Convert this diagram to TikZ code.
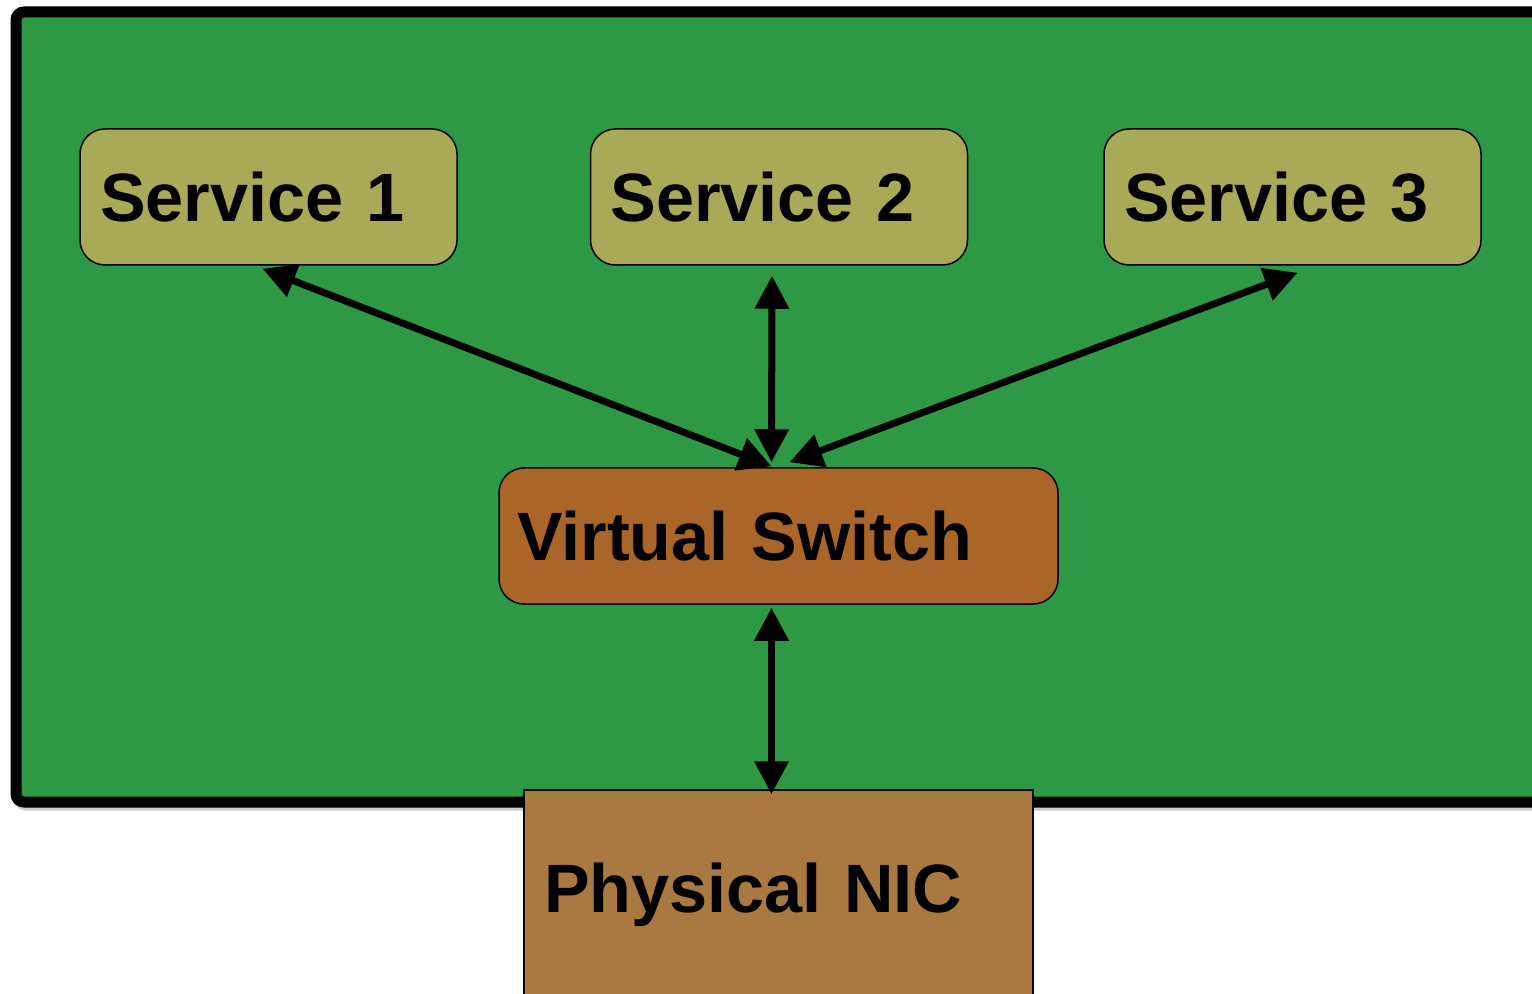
\documentclass[tikz,border=0pt]{standalone}
\usepackage{fontspec}
\setmainfont{Liberation Sans}
\usetikzlibrary{arrows.meta,calc}
\definecolor{bggreen}{RGB}{45,153,69}
\definecolor{svcolive}{RGB}{168,170,88}
\definecolor{swbrown}{RGB}{170,102,41}
\definecolor{nicbrown}{RGB}{170,121,66}
\tikzset{
  svcbox/.style={draw=black, line width=0.75pt, fill=svcolive, rounded corners=12.5pt,
    minimum height=68pt, text width=168.5pt, inner xsep=10pt, inner ysep=0pt, align=left,
    font=\fontsize{34.2}{40}\selectfont\bfseries},
  swbox/.style={draw=black, line width=0.75pt, fill=swbrown, rounded corners=12.5pt,
    minimum height=68pt, text width=261.5pt, inner xsep=9pt, inner ysep=0pt, align=left,
    font=\fontsize{34.2}{40}\selectfont\bfseries},
  nicbox/.style={draw=black, line width=0.75pt, fill=nicbrown,
    minimum height=105pt, text width=234.5pt, inner xsep=10pt, inner ysep=0pt, align=left,
    font=\fontsize{34.2}{40}\selectfont\bfseries},
  link/.style={line width=3.5pt, {Triangle[length=16.5pt,width=16.5pt]}-{Triangle[length=16.5pt,width=16.5pt]}}
}
\begin{document}
\begin{tikzpicture}[x=0.5pt,y=-0.5pt]
\useasboundingbox (0,0) rectangle (1532,994);
\clip (0,0) rectangle (1532,994);
\fill[white] (0,0) rectangle (1532,994);
% outer frame
\draw[gray!40, line width=5.5pt, rounded corners=4pt] (18,15) rectangle (1570,805);
\draw[black, fill=bggreen, line width=5.5pt, rounded corners=4pt] (16,12) rectangle (1570,802);
% nodes
\node[svcbox] (s1) at (268.5,197) {Service 1};
\node[svcbox] (s2) at (779,197) {Service 2};
\node[svcbox] (s3) at (1292.5,197) {Service 3};
\node[swbox] (sw) at (778.5,536) {Virtual Switch};
\node[nicbox] (nic) at (778.5,895) {Physical NIC};
% connectors
\draw[link] ($(s1.south)+(-6,3)$) -- ($(sw.north)+(-7,-1)$);
\draw[link] ($(s2.south)+(-7,10)$) -- ($(sw.north)+(-7,-5)$);
\draw[link] ($(s3.south)+(5,7)$) -- ($(sw.north)+(11,-5)$);
\draw[link] ($(sw.south)+(-7,3)$) -- ($(nic.north)+(-7,5)$);
\end{tikzpicture}
\end{document}
